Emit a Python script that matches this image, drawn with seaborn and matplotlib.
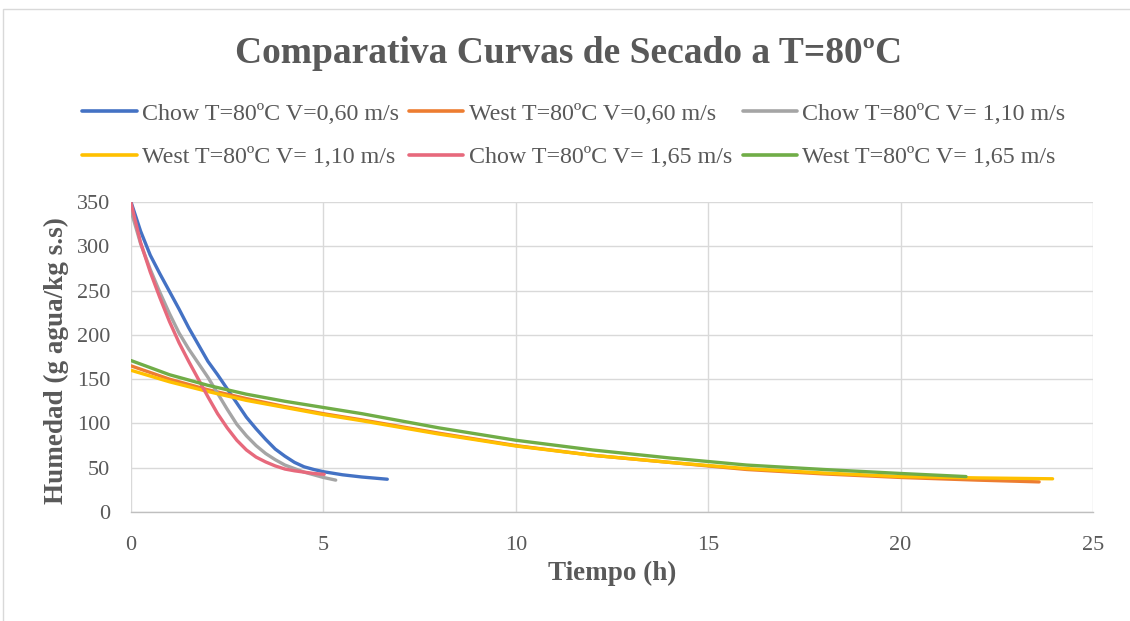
import numpy as np
import pandas as pd
import matplotlib
matplotlib.use("Agg")
import matplotlib.pyplot as plt
from matplotlib.patches import Rectangle
import seaborn as sns

# ---- data ----
series_names = [
    "Chow T=80ºC V=0,60 m/s",
    "West T=80ºC V=0,60 m/s",
    "Chow T=80ºC V= 1,10 m/s",
    "West T=80ºC V= 1,10 m/s",
    "Chow T=80ºC V= 1,65 m/s",
    "West T=80ºC V= 1,65 m/s",
]
colors = ["#4472C4", "#ED7D31", "#A5A5A5", "#FFC000", "#E7697C", "#70AD47"]

chow060_t = [0, 0.25, 0.5, 0.75, 1.0, 1.25, 1.5, 1.75, 2.0, 2.25, 2.5, 2.75, 3.0, 3.25,
             3.5, 3.75, 4.0, 4.25, 4.5, 4.75, 5.0, 5.5, 6.0, 6.66]
chow060_h = [350, 317, 290, 269, 249, 229, 208, 189, 170, 155, 139, 123, 107, 94,
             82, 71, 63, 56, 51, 48, 45.5, 42, 39.5, 37]

west060_t = [0, 1, 2, 3, 4, 5, 6, 8, 10, 12, 14, 16, 18, 20, 22, 23.6]
west060_h = [165, 150, 138, 128, 119, 111, 104, 89, 75, 64, 56, 48, 43, 39, 36, 34]

chow110_t = [0, 0.25, 0.5, 0.75, 1.0, 1.25, 1.5, 1.75, 2.0, 2.25, 2.5, 2.75, 3.0, 3.25,
             3.5, 3.75, 4.0, 4.25, 4.5, 4.75, 5.0, 5.32]
chow110_h = [340, 303, 274, 248, 224, 202, 184, 168, 152, 134, 116, 99, 86, 75,
             66, 59, 53, 49, 45, 42, 39, 36]

west110_t = [0, 1, 2, 3, 4, 5, 6, 8, 10, 12, 14, 16, 18, 20, 22, 23.95]
west110_h = [160, 147, 136, 126, 118, 110, 103, 88, 74.5, 64, 56, 49, 44, 40, 38.5, 37.5]

chow165_t = [0, 0.25, 0.5, 0.75, 1.0, 1.25, 1.5, 1.75, 2.0, 2.25, 2.5, 2.75, 3.0, 3.25,
             3.5, 3.75, 4.0, 4.25, 4.5, 4.75, 5.02]
chow165_h = [349, 304, 271, 242, 215, 191, 170, 150, 130, 111, 95, 81, 70, 62,
             56.5, 52, 48.5, 46.5, 45, 43.5, 42.5]

west165_t = [0, 1, 2, 3, 4, 5, 6, 8, 10, 12, 14, 16, 18, 20, 21.7]
west165_h = [171, 155, 143, 133, 125, 118, 111, 95, 81, 70, 61, 53, 48, 43.5, 40]

x_ticks = [0, 5, 10, 15, 20, 25]
y_ticks = [0, 50, 100, 150, 200, 250, 300, 350]

all_t = [chow060_t, west060_t, chow110_t, west110_t, chow165_t, west165_t]
all_h = [chow060_h, west060_h, chow110_h, west110_h, chow165_h, west165_h]

frames = []
for name, t, h in zip(series_names, all_t, all_h):
    frames.append(pd.DataFrame({"Tiempo": t, "Humedad": h, "Serie": name}))
df = pd.concat(frames, ignore_index=True)

# ---- style ----
sns.set_style("white")
plt.rcParams["font.family"] = ["Liberation Serif", "DejaVu Serif"]
txt = "#595959"

W, H = 1130, 621
fig = plt.figure(figsize=(W / 100, H / 100), dpi=100)
ax = fig.add_axes([131 / W, 1 - 512 / H, (1093 - 131) / W, (512 - 202) / H])

palette = dict(zip(series_names, colors))
sns.lineplot(data=df, x="Tiempo", y="Humedad", hue="Serie", hue_order=series_names,
             palette=palette, sort=False, estimator=None, units="Serie",
             linewidth=2.4, ax=ax, legend=True)
for ln in ax.get_lines():
    ln.set_solid_capstyle("round")
    ln.set_solid_joinstyle("round")

ax.set_xlim(0, 25)
ax.set_ylim(0, 350)
ax.set_xticks(x_ticks)
ax.set_yticks(y_ticks)
ax.grid(True, color="#D9D9D9", linewidth=1.0)
ax.set_axisbelow(True)
for s in ["top", "right", "left"]:
    ax.spines[s].set_visible(False)
ax.spines["bottom"].set_color("#BFBFBF")
ax.spines["bottom"].set_linewidth(1.0)
ax.tick_params(axis="both", length=0, labelsize=16, colors=txt)
ax.tick_params(axis="x", pad=17)
ax.tick_params(axis="y", pad=15)

ax.set_xlabel("Tiempo (h)", fontsize=19.5, fontweight="bold", color=txt, va="baseline")
ax.xaxis.set_label_coords(0.5, -(580.5 - 512) / 310)
ax.set_ylabel("Humedad (g agua/kg s.s)", fontsize=19.5, fontweight="bold", color=txt,
              va="center")
ax.yaxis.set_label_coords(-(131 - 56) / 962, 0.49)

# legend (row-major in reference -> column-major in matplotlib)
handles, labels = ax.get_legend_handles_labels()
ax.get_legend().remove()
hmap = dict(zip(labels, handles))
order = [0, 3, 1, 4, 2, 5]
leg = fig.legend([hmap[series_names[i]] for i in order], [series_names[i] for i in order],
                 ncol=3, loc="center", bbox_to_anchor=(574 / W, 1 - 135.5 / H),
                 frameon=False, fontsize=17.3, handlelength=2.25, handletextpad=0.24,
                 columnspacing=0.42, labelspacing=0.9, borderpad=0, borderaxespad=0)
for t in leg.get_texts():
    t.set_color(txt)
for l in leg.get_lines():
    l.set_linewidth(2.6)

fig.text(0.503, 1 - 63 / H, "Comparativa Curvas de Secado a T=80ºC", ha="center",
         va="baseline", fontsize=27, fontweight="bold", color=txt)

fig.patches.append(Rectangle((3 / W, -0.05), 1.1, 1.05 - 9 / H, transform=fig.transFigure,
                             fill=False, edgecolor="#D9D9D9", linewidth=1.0))

fig.savefig("out.png", dpi=100, facecolor="white")
